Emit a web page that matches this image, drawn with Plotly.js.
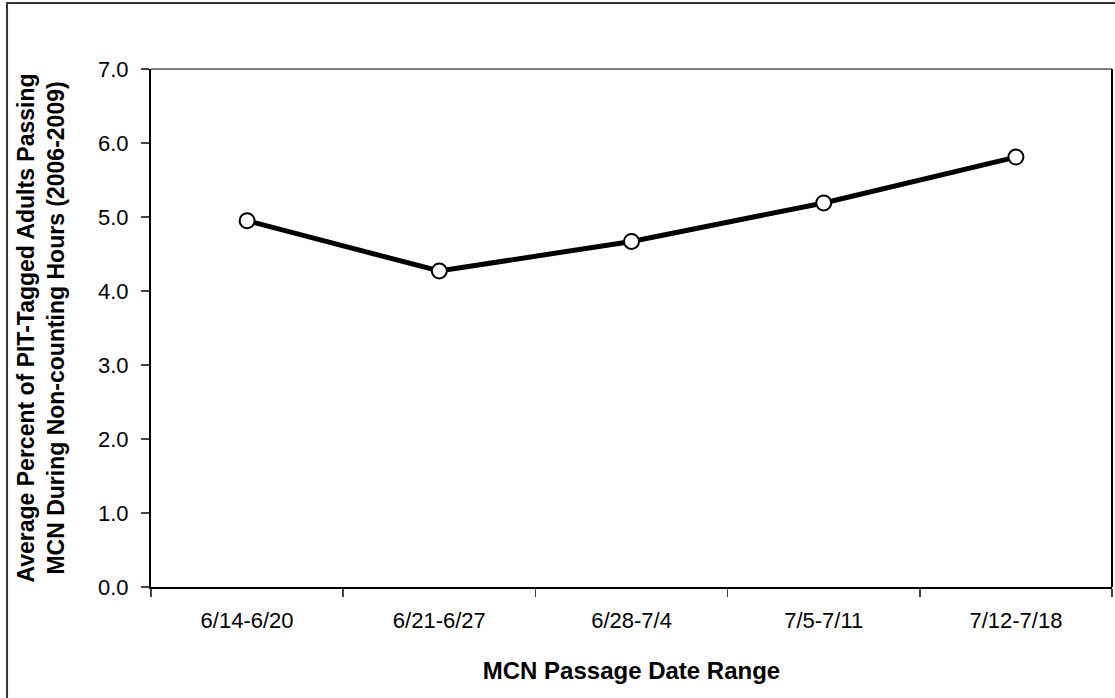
<!DOCTYPE html>
<html>
<head>
<meta charset="utf-8">
<script src="https://cdn.plot.ly/plotly-3.0.1.min.js"></script>
<style>html,body{margin:0;padding:0;background:#fff;}#chart{width:1115px;height:698px;}</style>
</head>
<body>
<div id="chart"></div>
<script>
const categories = ["6/14-6/20", "6/21-6/27", "6/28-7/4", "7/5-7/11", "7/12-7/18"];
const values = [4.95, 4.27, 4.67, 5.19, 5.81];
const yTickVals = [0, 1, 2, 3, 4, 5, 6, 7];
const yTickText = ["0.0", "1.0", "2.0", "3.0", "4.0", "5.0", "6.0", "7.0"];

const trace = {
  x: categories,
  y: values,
  type: "scatter",
  mode: "lines+markers",
  line: {color: "#000", width: 5},
  marker: {symbol: "circle", size: 15, color: "#fff", line: {color: "#000", width: 2}},
  hoverinfo: "skip",
  cliponaxis: false
};

const layout = {
  width: 1115,
  height: 698,
  margin: {l: 151, r: 3, t: 69, b: 111},
  paper_bgcolor: "#fff",
  plot_bgcolor: "#fff",
  showlegend: false,
  font: {family: "Liberation Sans, Arial, sans-serif", color: "#000", size: 22},
  xaxis: {
    type: "category",
    range: [-0.5, 4.5],
    tickson: "boundaries",
    ticks: "outside",
    ticklen: 8,
    tickwidth: 1.5,
    tickcolor: "#444",
    showline: true,
    linecolor: "#000",
    linewidth: 2,
    showgrid: false,
    zeroline: false,
    ticklabelstandoff: 13,
    tickfont: {size: 22},
    title: {text: "<b>MCN Passage Date Range</b>", font: {size: 24}, standoff: 30}
  },
  yaxis: {
    range: [0, 7],
    tickvals: yTickVals,
    ticktext: yTickText,
    ticks: "outside",
    ticklen: 8,
    tickwidth: 1.5,
    tickcolor: "#444",
    showline: true,
    linecolor: "#000",
    linewidth: 2,
    showgrid: false,
    zeroline: false,
    ticklabelstandoff: 8,
    tickfont: {size: 22},
    title: {text: "<b>Average Percent of PIT-Tagged Adults Passing<br>MCN During Non-counting Hours (2006-2009)</b>", font: {size: 23}, standoff: 27}
  },
  shapes: [
    {type: "line", xref: "paper", yref: "paper", x0: 0, x1: 1, y0: 1, y1: 1, line: {color: "#808080", width: 2}},
    {type: "line", xref: "paper", yref: "paper", x0: 1, x1: 1, y0: 0, y1: 1, line: {color: "#000", width: 2}},
    {type: "rect", xref: "paper", yref: "paper", x0: -0.1498, x1: 1.006, y0: -0.22, y1: 1.1274, line: {color: "#333", width: 2}, fillcolor: "rgba(0,0,0,0)", layer: "below"}
  ]
};

Plotly.newPlot("chart", [trace], layout, {staticPlot: true, displayModeBar: false});
</script>
</body>
</html>
